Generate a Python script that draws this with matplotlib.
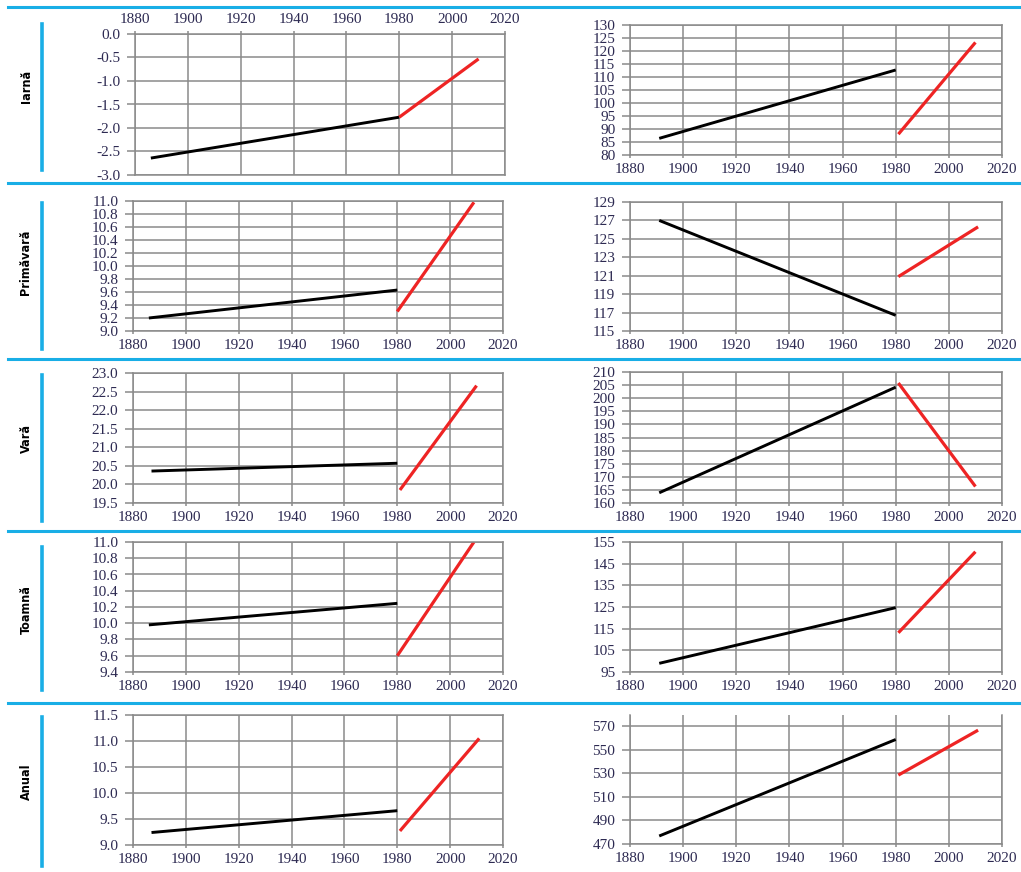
import matplotlib
matplotlib.use("Agg")
import matplotlib.pyplot as plt
from matplotlib.lines import Line2D

W, H = 1021, 872

seasons = ["Iarnă", "Primăvară", "Vară", "Toamnă", "Anual"]

# temperature trends (left column)
temp_hist_years = [[1886, 1980], [1886, 1980], [1887, 1980], [1886, 1980], [1887, 1980]]
temp_hist = [[-2.64, -1.77], [9.20, 9.63], [20.36, 20.57], [9.98, 10.245], [9.24, 9.66]]
temp_recent_years = [[1980, 2010], [1980, 2009], [1981, 2010], [1980, 2009], [1981, 2011]]
temp_recent = [[-1.77, -0.53], [9.30, 10.98], [19.85, 22.66], [9.60, 11.0], [9.27, 11.05]]
temp_ticks = [
    [-3.0, -2.5, -2.0, -1.5, -1.0, -0.5, 0.0],
    [9.0, 9.2, 9.4, 9.6, 9.8, 10.0, 10.2, 10.4, 10.6, 10.8, 11.0],
    [19.5, 20.0, 20.5, 21.0, 21.5, 22.0, 22.5, 23.0],
    [9.4, 9.6, 9.8, 10.0, 10.2, 10.4, 10.6, 10.8, 11.0],
    [9.0, 9.5, 10.0, 10.5, 11.0, 11.5],
]

# precipitation trends (right column)
precip_hist_years = [[1891, 1980]] * 5
precip_hist = [[86.4, 112.7], [127.0, 116.7], [163.9, 204.2], [99.0, 124.7], [476.8, 558.7]]
precip_recent_years = [[1981, 2010], [1981, 2011], [1981, 2010], [1981, 2010], [1981, 2011]]
precip_recent = [[88.0, 123.3], [120.9, 126.3], [205.8, 166.3], [113.1, 150.5], [528.5, 566.6]]
precip_ticks = [
    list(range(80, 131, 5)),
    list(range(115, 130, 2)),
    list(range(160, 211, 5)),
    list(range(95, 156, 10)),
    list(range(470, 571, 20)),
]

year_ticks = [1880, 1900, 1920, 1940, 1960, 1980, 2000, 2020]

BLUE = "#19aee6"
GRID = "#8a8a8a"
LABEL = "#2d2a52"
RED = "#ee2424"

# pixel boxes (left, top, right, bottom) for each panel
left_boxes = [(135, 34, 505, 175), (133, 201, 503, 331), (133, 373, 503, 503),
              (133, 542, 503, 672), (133, 715, 503, 845)]
right_boxes = [(630, 25, 1002, 155), (630, 202, 1002, 331), (630, 372, 1002, 503),
               (630, 542, 1002, 672), (630, 715, 1002, 844)]
separators = [7, 183, 359, 531, 703]
side_bars = [(24, 170), (203, 349), (375, 521), (547, 690), (717, 866)]

plt.rcParams["font.family"] = ["Liberation Serif", "DejaVu Serif"]

fig = plt.figure(figsize=(W / 100, H / 100), dpi=100)


def make_axes(box):
    l, t, r, b = box
    return fig.add_axes([l / W, 1 - b / H, (r - l) / W, (b - t) / H])


def style(ax, yticks, ylim, fmt):
    ax.set_xlim(1880, 2020)
    ax.set_ylim(*ylim)
    ax.set_xticks(year_ticks)
    ax.set_xticklabels([str(y) for y in year_ticks])
    ax.set_yticks(yticks)
    ax.set_yticklabels([fmt(v) for v in yticks])
    ax.grid(True, color=GRID, lw=1.1)
    ax.set_axisbelow(True)
    for s in ax.spines.values():
        s.set_color(GRID)
        s.set_linewidth(1.1)
    ax.tick_params(colors=GRID, labelcolor=LABEL, labelsize=11, width=1.1)
    ax.tick_params(axis="x", length=2.5, pad=3.5)
    ax.tick_params(axis="y", length=5.5, pad=5)


def fmt_temp(v):
    s = f"{v:.1f}"
    return "0.0" if s == "-0.0" else s


for i, season in enumerate(seasons):
    # temperature panel
    ax = make_axes(left_boxes[i])
    ax.plot(temp_hist_years[i], temp_hist[i], color="black", lw=2.1,
            solid_capstyle="butt")
    ax.plot(temp_recent_years[i], temp_recent[i], color=RED, lw=2.3,
            solid_capstyle="butt")
    style(ax, temp_ticks[i], (temp_ticks[i][0], temp_ticks[i][-1]), fmt_temp)
    if i == 0:
        ax.xaxis.tick_top()

    # precipitation panel
    ax = make_axes(right_boxes[i])
    ax.plot(precip_hist_years[i], precip_hist[i], color="black", lw=2.1,
            solid_capstyle="butt")
    ax.plot(precip_recent_years[i], precip_recent[i], color=RED, lw=2.3,
            solid_capstyle="butt")
    top = precip_ticks[i][-1]
    if i == 4:
        top = 579.5
    style(ax, precip_ticks[i], (precip_ticks[i][0], top), lambda v: str(v))
    if i == 4:
        ax.spines["top"].set_visible(False)

    # row separator, side bar and season label
    y = 1 - separators[i] / H
    fig.add_artist(Line2D([8 / W, 1], [y, y], color=BLUE, lw=2.2))
    y0, y1 = side_bars[i]
    fig.add_artist(Line2D([42 / W, 42 / W], [1 - y0 / H, 1 - y1 / H],
                          color=BLUE, lw=2.6))
    fig.text(26 / W, 1 - (separators[i] + 79) / H, season, rotation=90,
             ha="center", va="center", fontsize=9, fontweight="bold",
             fontstretch="condensed", family="DejaVu Sans")

fig.savefig("out.png", dpi=100)
